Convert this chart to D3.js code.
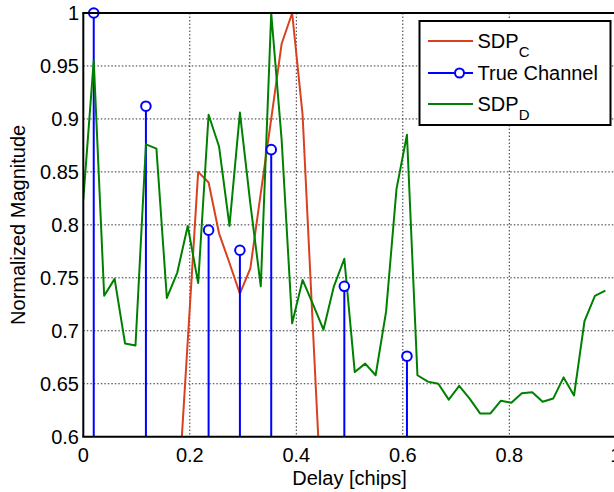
<!DOCTYPE html>
<html>
<head>
<meta charset="utf-8">
<script src="https://cdn.jsdelivr.net/npm/d3@7"></script>
<style>
  html, body { margin: 0; padding: 0; background: #fff; overflow: hidden; }
  svg { display: block; font-family: "Liberation Sans", Arial, Helvetica, sans-serif; }
</style>
</head>
<body>
<svg id="chart" width="614" height="492"></svg>
<script>
// ---- Data ----
const delay = [0, 0.0196, 0.0392, 0.0588, 0.0784, 0.0980, 0.1176, 0.1373, 0.1569, 0.1765,
  0.1961, 0.2157, 0.2353, 0.2549, 0.2745, 0.2941, 0.3137, 0.3333, 0.3529, 0.3725,
  0.3922, 0.4118, 0.4314, 0.4510, 0.4706, 0.4902, 0.5098, 0.5294, 0.5490, 0.5686,
  0.5882, 0.6078, 0.6275, 0.6471, 0.6667, 0.6863, 0.7059, 0.7255, 0.7451, 0.7647,
  0.7843, 0.8039, 0.8235, 0.8431, 0.8627, 0.8824, 0.9020, 0.9216, 0.9412, 0.9608, 0.9804];

const sdpD = [0.824, 0.955, 0.733, 0.749, 0.688, 0.686, 0.876, 0.872, 0.731, 0.755,
  0.799, 0.745, 0.904, 0.874, 0.799, 0.906, 0.820, 0.742, 1.000, 0.880,
  0.707, 0.748, 0.725, 0.701, 0.742, 0.768, 0.661, 0.669, 0.658, 0.718,
  0.834, 0.885, 0.658, 0.652, 0.650, 0.635, 0.648, 0.636, 0.622, 0.622,
  0.634, 0.632, 0.641, 0.642, 0.633, 0.636, 0.656, 0.639, 0.709, 0.733, 0.738];

const sdpCDelay = [0.1765, 0.1961, 0.2157, 0.2353, 0.2549, 0.2745, 0.2941, 0.3137,
  0.3333, 0.3529, 0.3725, 0.3922, 0.4118, 0.4314, 0.4510];
const sdpC = [0.53, 0.69, 0.850, 0.840, 0.792, 0.764, 0.735, 0.759,
  0.830, 0.900, 0.971, 1.000, 0.904, 0.700, 0.500];

const trueDelay = [0.0196, 0.1176, 0.2353, 0.2941, 0.3529, 0.4902, 0.6078];
const trueMag = [1.000, 0.912, 0.795, 0.776, 0.871, 0.742, 0.676];

const xTicks = [0, 0.2, 0.4, 0.6, 0.8, 1];
const yTicks = [0.6, 0.65, 0.7, 0.75, 0.8, 0.85, 0.9, 0.95, 1];

const xLabel = "Delay [chips]";
const yLabel = "Normalized Magnitude";

// ---- Layout ----
const svg = d3.select("#chart");
const W = 614, H = 492;
const m = { left: 83.3, top: 13, right: 615.8, bottom: 436.7 };

const x = d3.scaleLinear().domain([0, 1]).range([m.left, m.right]);
const y = d3.scaleLinear().domain([0.6, 1]).range([m.bottom, m.top]);

svg.append("rect").attr("width", W).attr("height", H).attr("fill", "#fff");

svg.append("defs").append("clipPath").attr("id", "plotclip")
  .append("rect").attr("x", m.left).attr("y", m.top - 1)
  .attr("width", m.right - m.left).attr("height", m.bottom - m.top + 1);

// grid
const grid = svg.append("g");
grid.selectAll("line.gx").data(xTicks.slice(1)).enter().append("line")
  .attr("x1", d => x(d)).attr("x2", d => x(d))
  .attr("y1", m.top).attr("y2", m.bottom)
  .attr("stroke", "#333").attr("stroke-width", 1).attr("stroke-dasharray", "1.5,2");
grid.selectAll("line.gy").data(yTicks.slice(1, -1)).enter().append("line")
  .attr("x1", m.left).attr("x2", m.right)
  .attr("y1", d => y(d)).attr("y2", d => y(d))
  .attr("stroke", "#333").attr("stroke-width", 1).attr("stroke-dasharray", "1.5,2");

// series
const plot = svg.append("g").attr("clip-path", "url(#plotclip)");
const line = d3.line().x(d => x(d[0])).y(d => y(d[1]));

plot.append("path")
  .datum(sdpCDelay.map((d, i) => [d, sdpC[i]]))
  .attr("d", line).attr("fill", "none")
  .attr("stroke", "#d9411e").attr("stroke-width", 2).attr("stroke-linejoin", "round");

// stems
const stems = plot.append("g");
stems.selectAll("line").data(trueDelay).enter().append("line")
  .attr("x1", d => x(d)).attr("x2", d => x(d))
  .attr("y1", y(0.6) + 2).attr("y2", (d, i) => y(trueMag[i]))
  .attr("stroke", "#0000ff").attr("stroke-width", 2);

plot.append("path")
  .datum(delay.map((d, i) => [d, sdpD[i]]))
  .attr("d", line).attr("fill", "none")
  .attr("stroke", "#008000").attr("stroke-width", 2).attr("stroke-linejoin", "round");

// stem markers (not clipped)
svg.append("g").selectAll("circle").data(trueDelay).enter().append("circle")
  .attr("cx", d => x(d)).attr("cy", (d, i) => y(trueMag[i])).attr("r", 4.8)
  .attr("fill", "#fff").attr("stroke", "#0000ff").attr("stroke-width", 2);

// axes box (left, top, bottom)
svg.append("line").attr("x1", m.left).attr("x2", m.left).attr("y1", m.top).attr("y2", m.bottom)
  .attr("stroke", "#000").attr("stroke-width", 2);
svg.append("line").attr("x1", m.left - 1).attr("x2", m.right).attr("y1", m.top).attr("y2", m.top)
  .attr("stroke", "#000").attr("stroke-width", 2);
svg.append("line").attr("x1", m.left - 1).attr("x2", m.right).attr("y1", m.bottom).attr("y2", m.bottom)
  .attr("stroke", "#000").attr("stroke-width", 2);

// tick labels
const fmt = d => String(+d.toFixed(2));
svg.append("g").selectAll("text").data(yTicks).enter().append("text")
  .attr("x", 79).attr("y", d => y(d)).attr("dy", "0.35em")
  .attr("text-anchor", "end").attr("font-size", 20).attr("fill", "#000")
  .text(fmt);
svg.append("g").selectAll("text").data(xTicks).enter().append("text")
  .attr("x", d => x(d)).attr("y", 461.5)
  .attr("text-anchor", "middle").attr("font-size", 20).attr("fill", "#000")
  .text(fmt);

// axis labels
svg.append("text").attr("x", (m.left + m.right) / 2).attr("y", 485)
  .attr("text-anchor", "middle").attr("font-size", 20).attr("fill", "#000").text(xLabel);
svg.append("text").attr("transform", `translate(25,${(m.top + m.bottom) / 2}) rotate(-90)`)
  .attr("text-anchor", "middle").attr("font-size", 20).attr("fill", "#000").text(yLabel);

// legend
const legendItems = [
  { name: "SDP", sub: "C", color: "#d9411e", marker: false },
  { name: "True Channel", sub: null, color: "#0000ff", marker: true },
  { name: "SDP", sub: "D", color: "#008000", marker: false }
];
const lg = svg.append("g");
lg.append("rect").attr("x", 419.5).attr("y", 21).attr("width", 191).attr("height", 104)
  .attr("fill", "#fff").attr("stroke", "#000").attr("stroke-width", 2);
const rowY = [41, 73, 104];
legendItems.forEach((it, i) => {
  const g = lg.append("g");
  g.append("line").attr("x1", 428).attr("x2", 473).attr("y1", rowY[i]).attr("y2", rowY[i])
    .attr("stroke", it.color).attr("stroke-width", 2);
  if (it.marker) {
    g.append("circle").attr("cx", 459.5).attr("cy", rowY[i]).attr("r", 4.5)
      .attr("fill", "#fff").attr("stroke", it.color).attr("stroke-width", 2);
  }
  const t = g.append("text").attr("x", 477.5).attr("y", rowY[i]).attr("dy", "0.35em")
    .attr("font-size", 20).attr("fill", "#000");
  t.append("tspan").text(it.name);
  if (it.sub) {
    t.append("tspan").attr("font-size", 15).attr("dy", "0.6em").text(it.sub);
  }
});
</script>
</body>
</html>
